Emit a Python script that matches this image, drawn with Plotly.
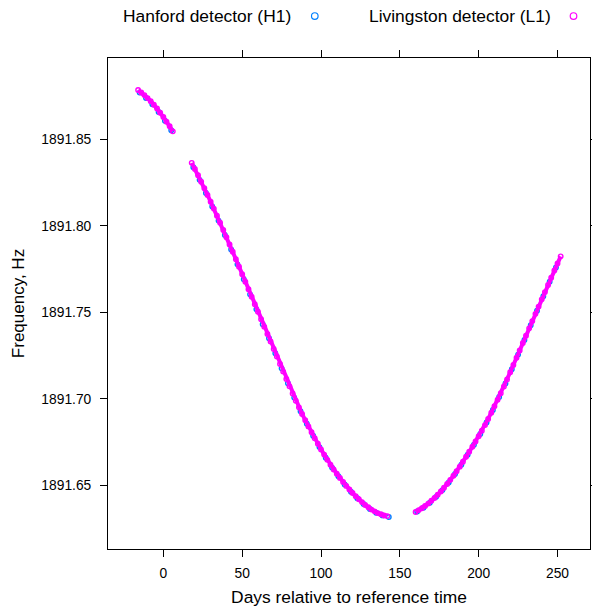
import plotly.graph_objects as go

# ---- data ----
days_L1 = [-16, -14, -12, -10, -8, -6, -4, -2, 0, 2, 4, 6,
           18, 20, 22, 24, 26, 28, 30, 32, 34, 36, 38, 40, 42, 44, 46, 48, 50,
           52, 54, 56, 58, 60, 62, 64, 66, 68, 70, 72, 74, 76, 78, 80, 82, 84,
           86, 88, 90, 92, 94, 96, 98, 100, 102, 104, 106, 108, 110, 112, 114,
           116, 118, 120, 122, 124, 126, 128, 130, 132, 134, 136, 138, 140, 142,
           160, 162, 164, 166, 168, 170, 172, 174, 176, 178, 180, 182, 184, 186,
           188, 190, 192, 194, 196, 198, 200, 202, 204, 206, 208, 210, 212, 214,
           216, 218, 220, 222, 224, 226, 228, 230, 232, 234, 236, 238, 240, 242,
           244, 246, 248, 250, 252]
freq_L1 = [1891.87872, 1891.87723, 1891.87574, 1891.87399, 1891.87224, 1891.87012,
           1891.86800, 1891.86554, 1891.86308, 1891.86038, 1891.85767, 1891.85475,
           1891.83654, 1891.83302, 1891.82934, 1891.82565, 1891.82182, 1891.81798,
           1891.81402, 1891.81005, 1891.80597, 1891.80189, 1891.79772, 1891.79354,
           1891.78930, 1891.78505, 1891.78075, 1891.77645, 1891.77212, 1891.76778,
           1891.76343, 1891.75907, 1891.75473, 1891.75038, 1891.74607, 1891.74175,
           1891.73748, 1891.73320, 1891.72885, 1891.72449, 1891.72012, 1891.71574,
           1891.71148, 1891.70721, 1891.70307, 1891.69892, 1891.69507, 1891.69122,
           1891.68763, 1891.68403, 1891.68061, 1891.67719, 1891.67397, 1891.67074,
           1891.66772, 1891.66469, 1891.66189, 1891.65909, 1891.65667, 1891.65425,
           1891.65193, 1891.64960, 1891.64754, 1891.64547, 1891.64367, 1891.64186,
           1891.64023, 1891.63860, 1891.63725, 1891.63589, 1891.63488, 1891.63386,
           1891.63319, 1891.63251, 1891.63213,
           1891.63453, 1891.63560, 1891.63667, 1891.63803, 1891.63938, 1891.64101,
           1891.64263, 1891.64452, 1891.64641, 1891.64856, 1891.65070, 1891.65310,
           1891.65549, 1891.65812, 1891.66074, 1891.66359, 1891.66644, 1891.66935,
           1891.67225, 1891.67530, 1891.67834, 1891.68157, 1891.68479, 1891.68838,
           1891.69196, 1891.69569, 1891.69942, 1891.70327, 1891.70712, 1891.71123,
           1891.71534, 1891.71954, 1891.72373, 1891.72800, 1891.73226, 1891.73652,
           1891.74078, 1891.74497, 1891.74916, 1891.75336, 1891.75755, 1891.76174,
           1891.76592, 1891.77007, 1891.77422, 1891.77832, 1891.78242]

days_H1 = [-15, -11, -7, -3, 1, 5,
           19, 23, 27, 31, 35, 39, 43, 47, 51, 55, 59, 63, 67, 71, 75, 79, 83,
           87, 91, 95, 99, 103, 107, 111, 115, 119, 123, 127, 131, 135, 139, 143,
           161, 165, 169, 173, 177, 181, 185, 189, 193, 197, 201, 205, 209, 213,
           217, 221, 225, 229, 233, 237, 241, 245, 249]
freq_H1 = [1891.87718, 1891.87407, 1891.87038, 1891.86597, 1891.86093, 1891.85541,
           1891.83398, 1891.82670, 1891.81910, 1891.81124, 1891.80313, 1891.79483,
           1891.78638, 1891.77780, 1891.76915, 1891.76045, 1891.75176, 1891.74311,
           1891.73504, 1891.72637, 1891.71763, 1891.70905, 1891.70070, 1891.69285,
           1891.68553, 1891.67860, 1891.67206, 1891.66591, 1891.66019, 1891.65516,
           1891.65047, 1891.64621, 1891.64247, 1891.63912, 1891.63627, 1891.63407,
           1891.63255, 1891.63160,
           1891.63477, 1891.63705, 1891.63990, 1891.64328, 1891.64719, 1891.65160,
           1891.65651, 1891.66187, 1891.66760, 1891.67348, 1891.67966, 1891.68629,
           1891.69353, 1891.70105, 1891.70888, 1891.71714, 1891.72557, 1891.73409,
           1891.74258, 1891.75096, 1891.75935, 1891.76770, 1891.77597]

x_ticks = [0, 50, 100, 150, 200, 250]
y_ticks = [1891.65, 1891.70, 1891.75, 1891.80, 1891.85]
y_tick_labels = ["1891.65", "1891.70", "1891.75", "1891.80", "1891.85"]

name_H1 = "Hanford detector (H1)"
name_L1 = "Livingston detector (L1)"
col_H1 = "#0080ff"
col_L1 = "#ff00ff"


def with_gaps(xs, ys, max_step=5):
    ox, oy = [], []
    for i, (xv, yv) in enumerate(zip(xs, ys)):
        if i > 0 and xv - xs[i - 1] > max_step:
            ox.append(None)
            oy.append(None)
        ox.append(xv)
        oy.append(yv)
    return ox, oy


FONT = "Liberation Sans, Arial, Helvetica, sans-serif"
W, H = 592, 607
ML, MR, MT, MB = 108, 1.5, 58, 57.5
PW = W - ML - MR
PH = H - MT - MB

fig = go.Figure()
fig.add_trace(go.Scatter(
    x=days_H1, y=freq_H1, mode="markers", name=name_H1, showlegend=False,
    hoverinfo="skip",
    marker=dict(symbol="circle-open", size=4.5, color=col_H1, line=dict(width=1.4, color=col_H1)),
))
lx, ly = with_gaps(days_L1, freq_L1)
fig.add_trace(go.Scatter(
    x=lx, y=ly, mode="lines+markers", name=name_L1, showlegend=False,
    hoverinfo="skip",
    line=dict(color=col_L1, width=4), connectgaps=False,
    marker=dict(symbol="circle-open", size=4.5, color=col_L1, line=dict(width=1.4, color=col_L1)),
))

axis_common = dict(
    showline=True, linecolor="#000000", linewidth=1, mirror="ticks",
    ticks="outside", ticklen=7, tickwidth=1, tickcolor="#000000",
    showgrid=False, zeroline=False, automargin=False,
    tickfont=dict(family=FONT, size=13.8, color="#000000"),
)
fig.update_xaxes(range=[-35.1, 270.6], tickvals=x_ticks, ticklabelstandoff=4,
                 title=dict(text="Days relative to reference time",
                            font=dict(family=FONT, size=17.4, color="#000000"), standoff=12),
                 **axis_common)
fig.update_yaxes(range=[1891.6131, 1891.8972], tickvals=y_ticks, ticktext=y_tick_labels,
                 ticklabelstandoff=6,
                 title=dict(text="Frequency, Hz",
                            font=dict(family=FONT, size=17, color="#000000"), standoff=12),
                 **axis_common)


# lattice-style key on top: text followed by symbol (positions in window pixels)
def px_x(p):
    return (p - ML) / PW


def px_y(p):
    return (H - MB - p) / PH


key_y = 16
annotations = [
    dict(text=name_H1, x=px_x(121), y=px_y(key_y), xref="paper", yref="paper",
         xanchor="left", yanchor="middle", showarrow=False,
         font=dict(family=FONT, size=17.4, color="#000000")),
    dict(text=name_L1, x=px_x(367), y=px_y(key_y), xref="paper", yref="paper",
         xanchor="left", yanchor="middle", showarrow=False,
         font=dict(family=FONT, size=17.4, color="#000000")),
]
shapes = []
for cx, col in ((315, col_H1), (574, col_L1)):
    shapes.append(dict(type="circle", xref="paper", yref="paper",
                       x0=px_x(cx - 3.3), x1=px_x(cx + 3.3),
                       y0=px_y(key_y + 3.3), y1=px_y(key_y - 3.3),
                       line=dict(color=col, width=1.2)))

fig.update_layout(
    width=W, height=H,
    margin=dict(l=ML, r=MR, t=MT, b=MB, pad=0),
    paper_bgcolor="white", plot_bgcolor="white",
    showlegend=False, hovermode=False,
    annotations=annotations, shapes=shapes,
    font=dict(family=FONT, color="#000000"),
)

# remove the browser's default 8px body margin so the figure fills the window
fig.write_html("out.html",
               config={"displayModeBar": False, "staticPlot": True},
               post_script="document.body.style.margin='0px';document.body.style.overflow='hidden';")
